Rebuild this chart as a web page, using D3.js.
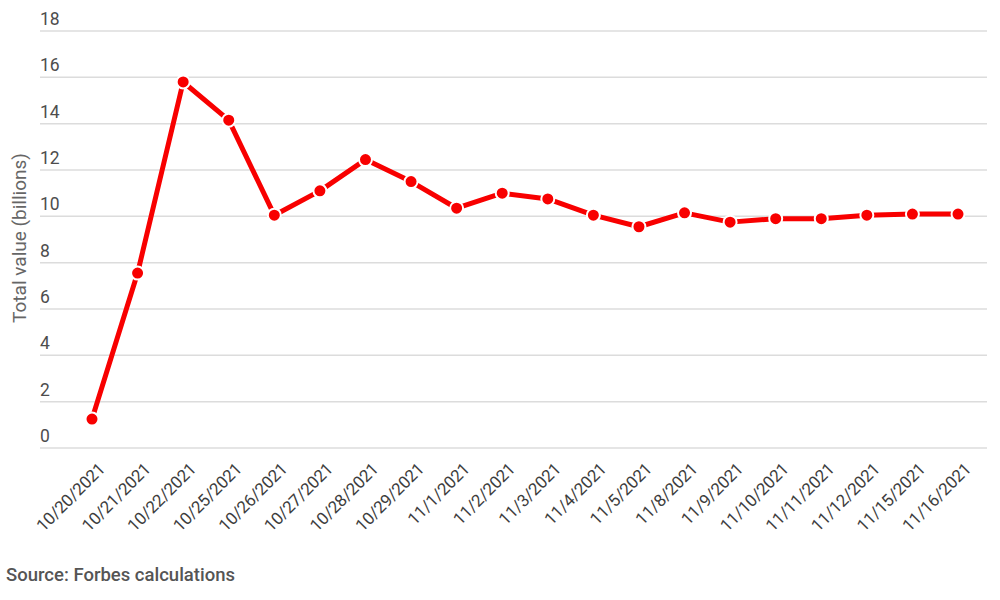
<!DOCTYPE html>
<html>
<head>
<meta charset="utf-8">
<script src="https://cdn.jsdelivr.net/npm/d3@7"></script>
<style>
  body { margin: 0; background: #fff; }
  svg { font-family: Roboto, "Noto Sans", sans-serif; }
</style>
</head>
<body>
<svg width="1000" height="600"></svg>
<script>
const dates = ['10/20/2021', '10/21/2021', '10/22/2021', '10/25/2021', '10/26/2021',
  '10/27/2021', '10/28/2021', '10/29/2021', '11/1/2021', '11/2/2021', '11/3/2021',
  '11/4/2021', '11/5/2021', '11/8/2021', '11/9/2021', '11/10/2021', '11/11/2021',
  '11/12/2021', '11/15/2021', '11/16/2021']
const values = [1.25, 7.55, 15.8, 14.15, 10.05, 11.1, 12.45, 11.5, 10.35, 11.0, 10.75,
  10.05, 9.55, 10.15, 9.75, 9.9, 9.9, 10.05, 10.1, 10.1]
const yTicks = [0, 2, 4, 6, 8, 10, 12, 14, 16, 18]

const gridLeft = 40
const gridRight = 987
const svg = d3.select('svg')

const x = d3.scalePoint()
  .domain(dates)
  .range([92, 958])

const y = d3.scaleLinear()
  .domain([0, 18])
  .range([448, 31])

// gridlines + labels sitting above them
const grid = svg.append('g')
grid.selectAll('line')
  .data(yTicks)
  .join('line')
  .attr('x1', gridLeft)
  .attr('x2', gridRight)
  .attr('y1', d => y(d))
  .attr('y2', d => y(d))
  .attr('stroke', '#dcdcdc')
  .attr('stroke-width', 1.5)

grid.selectAll('text')
  .data(yTicks)
  .join('text')
  .attr('x', 40)
  .attr('y', d => y(d) - 6)
  .attr('fill', '#4d4d4d')
  .style('font-size', '17.5px')
  .text(d => d)

svg.append('text')
  .attr('transform', 'translate(26, 238) rotate(-90)')
  .attr('text-anchor', 'middle')
  .attr('fill', '#666')
  .style('font-size', '19px')
  .text('Total value (billions)')

// x axis labels, rotated
svg.append('g')
  .selectAll('text')
  .data(dates)
  .join('text')
  .attr('transform', d => `translate(${x(d) + 5}, 461) rotate(-45)`)
  .attr('text-anchor', 'end')
  .attr('dy', '0.75em')
  .attr('fill', '#3d3d3d')
  .style('font-size', '17px')
  .style('letter-spacing', '-0.2px')
  .text(d => d)

const line = d3.line()
  .x((d, i) => x(dates[i]))
  .y(d => y(d))

svg.append('path')
  .datum(values)
  .attr('d', line)
  .attr('fill', 'none')
  .attr('stroke', '#f80000')
  .attr('stroke-width', 5)
  .attr('stroke-linejoin', 'round')

svg.append('g')
  .selectAll('circle')
  .data(values)
  .join('circle')
  .attr('cx', (d, i) => x(dates[i]))
  .attr('cy', d => y(d))
  .attr('r', 6.5)
  .attr('fill', '#f80000')
  .attr('stroke', '#fff')
  .attr('stroke-width', 2)

svg.append('text')
  .attr('x', 6)
  .attr('y', 581)
  .attr('fill', '#555')
  .style('font-size', '18.5px')
  .style('font-weight', 500)
  .text('Source: Forbes calculations')
</script>
</body>
</html>
